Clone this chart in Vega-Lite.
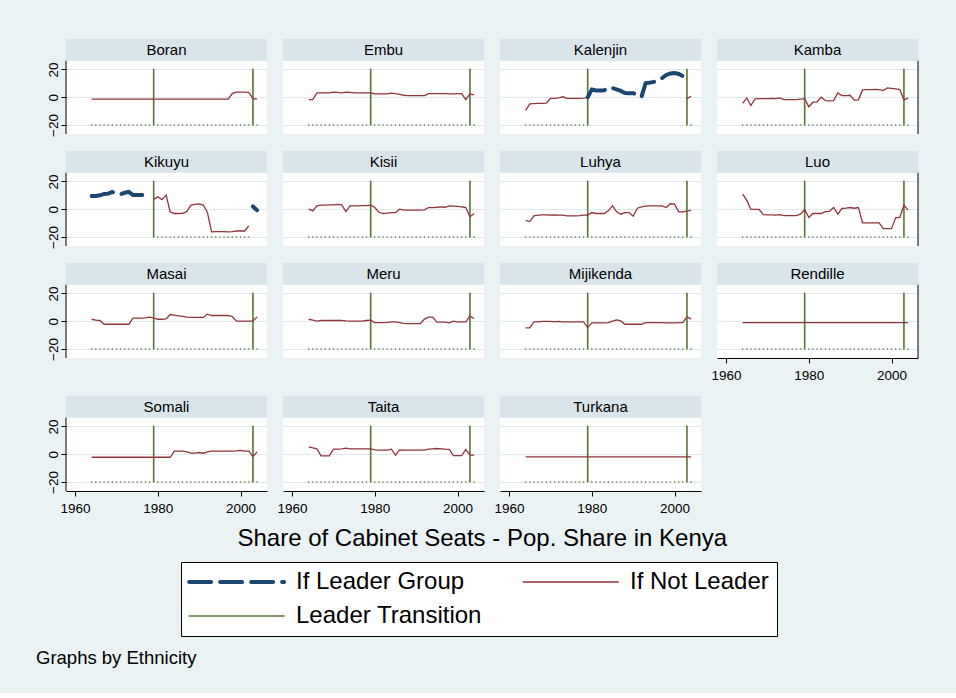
{
"$schema": "https://vega.github.io/schema/vega-lite/v6.json",
"background": "#eaf2f3",
"padding": {"left": 35, "top": 39, "right": 38, "bottom": 26},
"data": {"values": [
{"e":"Boran","y":1964,"n":-1.4,"t":-20},{"e":"Boran","y":1965,"n":-1.4,"t":-20},{"e":"Boran","y":1966,"n":-1.4,"t":-20},{"e":"Boran","y":1967,"n":-1.4,"t":-20},{"e":"Boran","y":1968,"n":-1.4,"t":-20},{"e":"Boran","y":1969,"n":-1.4,"t":-20},{"e":"Boran","y":1970,"n":-1.4,"t":-20},{"e":"Boran","y":1971,"n":-1.4,"t":-20},{"e":"Boran","y":1972,"n":-1.4,"t":-20},{"e":"Boran","y":1973,"n":-1.4,"t":-20},{"e":"Boran","y":1974,"n":-1.4,"t":-20},{"e":"Boran","y":1975,"n":-1.4},{"e":"Boran","y":1976,"n":-1.4,"t":-20},{"e":"Boran","y":1977,"n":-1.4,"t":-20},{"e":"Boran","y":1978,"n":-1.4,"t":-20},{"e":"Boran","y":1979,"n":-1.4,"t":20},{"e":"Boran","y":1980,"n":-1.4,"t":-20},{"e":"Boran","y":1981,"n":-1.4,"t":-20},{"e":"Boran","y":1982,"n":-1.4,"t":-20},{"e":"Boran","y":1983,"n":-1.4,"t":-20},{"e":"Boran","y":1984,"n":-1.4,"t":-20},{"e":"Boran","y":1985,"n":-1.4,"t":-20},{"e":"Boran","y":1986,"n":-1.4,"t":-20},{"e":"Boran","y":1987,"n":-1.4,"t":-20},{"e":"Boran","y":1988,"n":-1.4,"t":-20},{"e":"Boran","y":1989,"n":-1.4,"t":-20},{"e":"Boran","y":1990,"n":-1.4,"t":-20},{"e":"Boran","y":1991,"n":-1.4,"t":-20},{"e":"Boran","y":1992,"n":-1.4,"t":-20},{"e":"Boran","y":1993,"n":-1.4,"t":-20},{"e":"Boran","y":1994,"n":-1.4,"t":-20},{"e":"Boran","y":1995,"n":-1.4,"t":-20},{"e":"Boran","y":1996,"n":-1.4,"t":-20},{"e":"Boran","y":1997,"n":-1.4,"t":-20},{"e":"Boran","y":1998,"n":2.6,"t":-20},{"e":"Boran","y":1999,"n":3.6,"t":-20},{"e":"Boran","y":2000,"n":3.6,"t":-20},{"e":"Boran","y":2001,"n":3.6,"t":-20},{"e":"Boran","y":2002,"n":3.4,"t":-20},{"e":"Boran","y":2003,"n":-1.0,"t":20},{"e":"Boran","y":2004,"n":-1.4,"t":-20},
{"e":"Embu","y":1964,"n":-1.7,"t":-20},{"e":"Embu","y":1965,"n":-1.7,"t":-20},{"e":"Embu","y":1966,"n":3.1,"t":-20},{"e":"Embu","y":1967,"n":3.1,"t":-20},{"e":"Embu","y":1968,"n":3.1,"t":-20},{"e":"Embu","y":1969,"n":3.1,"t":-20},{"e":"Embu","y":1970,"n":3.6,"t":-20},{"e":"Embu","y":1971,"n":3.4,"t":-20},{"e":"Embu","y":1972,"n":3.1,"t":-20},{"e":"Embu","y":1973,"n":3.6,"t":-20},{"e":"Embu","y":1974,"n":3.4,"t":-20},{"e":"Embu","y":1975,"n":3.1},{"e":"Embu","y":1976,"n":3.1,"t":-20},{"e":"Embu","y":1977,"n":3.1,"t":-20},{"e":"Embu","y":1978,"n":3.1,"t":-20},{"e":"Embu","y":1979,"n":3.1,"t":20},{"e":"Embu","y":1980,"n":2.4,"t":-20},{"e":"Embu","y":1981,"n":2.4,"t":-20},{"e":"Embu","y":1982,"n":2.4,"t":-20},{"e":"Embu","y":1983,"n":2.4,"t":-20},{"e":"Embu","y":1984,"n":2.9,"t":-20},{"e":"Embu","y":1985,"n":2.6,"t":-20},{"e":"Embu","y":1986,"n":2.0,"t":-20},{"e":"Embu","y":1987,"n":1.4,"t":-20},{"e":"Embu","y":1988,"n":1.2,"t":-20},{"e":"Embu","y":1989,"n":1.2,"t":-20},{"e":"Embu","y":1990,"n":1.2,"t":-20},{"e":"Embu","y":1991,"n":1.2,"t":-20},{"e":"Embu","y":1992,"n":1.2,"t":-20},{"e":"Embu","y":1993,"n":2.6,"t":-20},{"e":"Embu","y":1994,"n":2.6,"t":-20},{"e":"Embu","y":1995,"n":2.6,"t":-20},{"e":"Embu","y":1996,"n":2.6,"t":-20},{"e":"Embu","y":1997,"n":2.6,"t":-20},{"e":"Embu","y":1998,"n":2.4,"t":-20},{"e":"Embu","y":1999,"n":2.4,"t":-20},{"e":"Embu","y":2000,"n":2.6,"t":-20},{"e":"Embu","y":2001,"n":2.6,"t":-20},{"e":"Embu","y":2002,"n":-1.7,"t":-20},{"e":"Embu","y":2003,"n":2.4,"t":20},{"e":"Embu","y":2004,"n":1.7,"t":-20},
{"e":"Kalenjin","y":1964,"n":-9.5,"t":-20},{"e":"Kalenjin","y":1965,"n":-4.8,"t":-20},{"e":"Kalenjin","y":1966,"n":-4.6,"t":-20},{"e":"Kalenjin","y":1967,"n":-4.5,"t":-20},{"e":"Kalenjin","y":1968,"n":-4.5,"t":-20},{"e":"Kalenjin","y":1969,"n":-4.3,"t":-20},{"e":"Kalenjin","y":1970,"n":-0.8,"t":-20},{"e":"Kalenjin","y":1971,"n":-0.8,"t":-20},{"e":"Kalenjin","y":1972,"n":-0.5,"t":-20},{"e":"Kalenjin","y":1973,"n":0.3,"t":-20},{"e":"Kalenjin","y":1974,"n":-0.8,"t":-20},{"e":"Kalenjin","y":1975,"n":-0.8},{"e":"Kalenjin","y":1976,"n":-0.8,"t":-20},{"e":"Kalenjin","y":1977,"n":-0.8,"t":-20},{"e":"Kalenjin","y":1978,"n":-0.6,"t":-20},{"e":"Kalenjin","y":1979,"n":0,"l":0,"t":20},{"e":"Kalenjin","y":1980,"l":5.5,"t":-20},{"e":"Kalenjin","y":1981,"l":4.8,"t":-20},{"e":"Kalenjin","y":1982,"l":4.8,"t":-20},{"e":"Kalenjin","y":1983,"l":5.0,"t":-20},{"e":"Kalenjin","y":1984,"l":6.9,"t":-20},{"e":"Kalenjin","y":1985,"l":6.5,"t":-20},{"e":"Kalenjin","y":1986,"l":5.7,"t":-20},{"e":"Kalenjin","y":1987,"l":4.5,"t":-20},{"e":"Kalenjin","y":1988,"l":3.0,"t":-20},{"e":"Kalenjin","y":1989,"l":2.8,"t":-20},{"e":"Kalenjin","y":1990,"l":2.8,"t":-20},{"e":"Kalenjin","y":1991,"l":2.2,"t":-20},{"e":"Kalenjin","y":1992,"l":0.2,"t":-20},{"e":"Kalenjin","y":1993,"l":10.0,"t":-20},{"e":"Kalenjin","y":1994,"l":10.5,"t":-20},{"e":"Kalenjin","y":1995,"l":11.0,"t":-20},{"e":"Kalenjin","y":1996,"l":12.0,"t":-20},{"e":"Kalenjin","y":1997,"l":13.8,"t":-20},{"e":"Kalenjin","y":1998,"l":16.0,"t":-20},{"e":"Kalenjin","y":1999,"l":17.1,"t":-20},{"e":"Kalenjin","y":2000,"l":17.4,"t":-20},{"e":"Kalenjin","y":2001,"l":16.7,"t":-20},{"e":"Kalenjin","y":2002,"l":15.2,"t":-20},{"e":"Kalenjin","y":2003,"n":-1.0,"t":20},{"e":"Kalenjin","y":2004,"n":0.7,"t":-20},
{"e":"Kamba","y":1964,"n":-4.5,"t":-20},{"e":"Kamba","y":1965,"n":-0.5,"t":-20},{"e":"Kamba","y":1966,"n":-6.0,"t":-20},{"e":"Kamba","y":1967,"n":-1.2,"t":-20},{"e":"Kamba","y":1968,"n":-1.0,"t":-20},{"e":"Kamba","y":1969,"n":-1.0,"t":-20},{"e":"Kamba","y":1970,"n":-1.0,"t":-20},{"e":"Kamba","y":1971,"n":-0.8,"t":-20},{"e":"Kamba","y":1972,"n":-1.0,"t":-20},{"e":"Kamba","y":1973,"n":-0.5,"t":-20},{"e":"Kamba","y":1974,"n":-1.7,"t":-20},{"e":"Kamba","y":1975,"n":-1.7},{"e":"Kamba","y":1976,"n":-1.7,"t":-20},{"e":"Kamba","y":1977,"n":-1.7,"t":-20},{"e":"Kamba","y":1978,"n":-1.4,"t":-20},{"e":"Kamba","y":1979,"n":-1.0,"t":20},{"e":"Kamba","y":1980,"n":-6.9,"t":-20},{"e":"Kamba","y":1981,"n":-3.6,"t":-20},{"e":"Kamba","y":1982,"n":-3.3,"t":-20},{"e":"Kamba","y":1983,"n":0,"t":-20},{"e":"Kamba","y":1984,"n":-2.4,"t":-20},{"e":"Kamba","y":1985,"n":-2.6,"t":-20},{"e":"Kamba","y":1986,"n":-2.4,"t":-20},{"e":"Kamba","y":1987,"n":3.1,"t":-20},{"e":"Kamba","y":1988,"n":1.2,"t":-20},{"e":"Kamba","y":1989,"n":1.2,"t":-20},{"e":"Kamba","y":1990,"n":1.4,"t":-20},{"e":"Kamba","y":1991,"n":-2.1,"t":-20},{"e":"Kamba","y":1992,"n":-1.9,"t":-20},{"e":"Kamba","y":1993,"n":5.2,"t":-20},{"e":"Kamba","y":1994,"n":5.5,"t":-20},{"e":"Kamba","y":1995,"n":5.5,"t":-20},{"e":"Kamba","y":1996,"n":5.7,"t":-20},{"e":"Kamba","y":1997,"n":5.5,"t":-20},{"e":"Kamba","y":1998,"n":4.8,"t":-20},{"e":"Kamba","y":1999,"n":6.7,"t":-20},{"e":"Kamba","y":2000,"n":6.4,"t":-20},{"e":"Kamba","y":2001,"n":6.0,"t":-20},{"e":"Kamba","y":2002,"n":5.5,"t":-20},{"e":"Kamba","y":2003,"n":-1.9,"t":20},{"e":"Kamba","y":2004,"n":-0.7,"t":-20},
{"e":"Kikuyu","y":1964,"l":9.5,"t":-20},{"e":"Kikuyu","y":1965,"l":9.5,"t":-20},{"e":"Kikuyu","y":1966,"l":10.0,"t":-20},{"e":"Kikuyu","y":1967,"l":11.0,"t":-20},{"e":"Kikuyu","y":1968,"l":11.2,"t":-20},{"e":"Kikuyu","y":1969,"l":12.4,"t":-20},{"e":"Kikuyu","y":1970,"l":11.0,"t":-20},{"e":"Kikuyu","y":1971,"l":10.8,"t":-20},{"e":"Kikuyu","y":1972,"l":11.8,"t":-20},{"e":"Kikuyu","y":1973,"l":12.4,"t":-20},{"e":"Kikuyu","y":1974,"l":10.2,"t":-20},{"e":"Kikuyu","y":1975,"l":10.2},{"e":"Kikuyu","y":1976,"l":10.2,"t":-20},{"e":"Kikuyu","y":1977,"l":10.2,"t":-20},{"e":"Kikuyu","y":1978,"l":7.9,"t":-20},{"e":"Kikuyu","y":1979,"n":7.1,"t":20},{"e":"Kikuyu","y":1980,"n":8.9,"t":-20},{"e":"Kikuyu","y":1981,"n":6.9,"t":-20},{"e":"Kikuyu","y":1982,"n":10.1,"t":-20},{"e":"Kikuyu","y":1983,"n":-2.0,"t":-20},{"e":"Kikuyu","y":1984,"n":-3.1,"t":-20},{"e":"Kikuyu","y":1985,"n":-3.1,"t":-20},{"e":"Kikuyu","y":1986,"n":-3.0,"t":-20},{"e":"Kikuyu","y":1987,"n":-1.6,"t":-20},{"e":"Kikuyu","y":1988,"n":2.9,"t":-20},{"e":"Kikuyu","y":1989,"n":3.5,"t":-20},{"e":"Kikuyu","y":1990,"n":3.8,"t":-20},{"e":"Kikuyu","y":1991,"n":3.0,"t":-20},{"e":"Kikuyu","y":1992,"n":-2.4,"t":-20},{"e":"Kikuyu","y":1993,"n":-16.3,"t":-20},{"e":"Kikuyu","y":1994,"n":-16.2,"t":-20},{"e":"Kikuyu","y":1995,"n":-16.2,"t":-20},{"e":"Kikuyu","y":1996,"n":-16.2,"t":-20},{"e":"Kikuyu","y":1997,"n":-16.4,"t":-20},{"e":"Kikuyu","y":1998,"n":-16.2,"t":-20},{"e":"Kikuyu","y":1999,"n":-15.7,"t":-20},{"e":"Kikuyu","y":2000,"n":-15.7,"t":-20},{"e":"Kikuyu","y":2001,"n":-15.7,"t":-20},{"e":"Kikuyu","y":2002,"n":-12.0,"t":-20},{"e":"Kikuyu","y":2003,"l":2.0,"t":20},{"e":"Kikuyu","y":2004,"l":-0.7,"t":-20},
{"e":"Kisii","y":1964,"n":0,"t":-20},{"e":"Kisii","y":1965,"n":-1.2,"t":-20},{"e":"Kisii","y":1966,"n":2.4,"t":-20},{"e":"Kisii","y":1967,"n":2.9,"t":-20},{"e":"Kisii","y":1968,"n":2.9,"t":-20},{"e":"Kisii","y":1969,"n":3.1,"t":-20},{"e":"Kisii","y":1970,"n":3.1,"t":-20},{"e":"Kisii","y":1971,"n":3.4,"t":-20},{"e":"Kisii","y":1972,"n":3.1,"t":-20},{"e":"Kisii","y":1973,"n":-1.7,"t":-20},{"e":"Kisii","y":1974,"n":2.4,"t":-20},{"e":"Kisii","y":1975,"n":2.4},{"e":"Kisii","y":1976,"n":2.4,"t":-20},{"e":"Kisii","y":1977,"n":2.6,"t":-20},{"e":"Kisii","y":1978,"n":2.6,"t":-20},{"e":"Kisii","y":1979,"n":2.9,"t":20},{"e":"Kisii","y":1980,"n":1.2,"t":-20},{"e":"Kisii","y":1981,"n":-2.2,"t":-20},{"e":"Kisii","y":1982,"n":-3.1,"t":-20},{"e":"Kisii","y":1983,"n":-2.9,"t":-20},{"e":"Kisii","y":1984,"n":-2.4,"t":-20},{"e":"Kisii","y":1985,"n":-2.4,"t":-20},{"e":"Kisii","y":1986,"n":0,"t":-20},{"e":"Kisii","y":1987,"n":-0.7,"t":-20},{"e":"Kisii","y":1988,"n":-0.7,"t":-20},{"e":"Kisii","y":1989,"n":-0.7,"t":-20},{"e":"Kisii","y":1990,"n":-0.7,"t":-20},{"e":"Kisii","y":1991,"n":-0.7,"t":-20},{"e":"Kisii","y":1992,"n":-0.5,"t":-20},{"e":"Kisii","y":1993,"n":1.2,"t":-20},{"e":"Kisii","y":1994,"n":1.2,"t":-20},{"e":"Kisii","y":1995,"n":1.4,"t":-20},{"e":"Kisii","y":1996,"n":1.7,"t":-20},{"e":"Kisii","y":1997,"n":1.4,"t":-20},{"e":"Kisii","y":1998,"n":2.4,"t":-20},{"e":"Kisii","y":1999,"n":2.2,"t":-20},{"e":"Kisii","y":2000,"n":2.0,"t":-20},{"e":"Kisii","y":2001,"n":1.7,"t":-20},{"e":"Kisii","y":2002,"n":1.2,"t":-20},{"e":"Kisii","y":2003,"n":-5.5,"t":20},{"e":"Kisii","y":2004,"n":-3.1,"t":-20},
{"e":"Luhya","y":1964,"n":-8.0,"t":-20},{"e":"Luhya","y":1965,"n":-8.9,"t":-20},{"e":"Luhya","y":1966,"n":-4.8,"t":-20},{"e":"Luhya","y":1967,"n":-4.3,"t":-20},{"e":"Luhya","y":1968,"n":-4.1,"t":-20},{"e":"Luhya","y":1969,"n":-4.1,"t":-20},{"e":"Luhya","y":1970,"n":-4.3,"t":-20},{"e":"Luhya","y":1971,"n":-4.1,"t":-20},{"e":"Luhya","y":1972,"n":-4.3,"t":-20},{"e":"Luhya","y":1973,"n":-4.3,"t":-20},{"e":"Luhya","y":1974,"n":-4.8,"t":-20},{"e":"Luhya","y":1975,"n":-4.8},{"e":"Luhya","y":1976,"n":-4.8,"t":-20},{"e":"Luhya","y":1977,"n":-4.6,"t":-20},{"e":"Luhya","y":1978,"n":-4.3,"t":-20},{"e":"Luhya","y":1979,"n":-4.3,"t":20},{"e":"Luhya","y":1980,"n":-2.4,"t":-20},{"e":"Luhya","y":1981,"n":-3.1,"t":-20},{"e":"Luhya","y":1982,"n":-3.1,"t":-20},{"e":"Luhya","y":1983,"n":-3.1,"t":-20},{"e":"Luhya","y":1984,"n":-1.2,"t":-20},{"e":"Luhya","y":1985,"n":2.4,"t":-20},{"e":"Luhya","y":1986,"n":-1.9,"t":-20},{"e":"Luhya","y":1987,"n":-3.6,"t":-20},{"e":"Luhya","y":1988,"n":-2.4,"t":-20},{"e":"Luhya","y":1989,"n":-2.4,"t":-20},{"e":"Luhya","y":1990,"n":-5.1,"t":-20},{"e":"Luhya","y":1991,"n":0.7,"t":-20},{"e":"Luhya","y":1992,"n":1.7,"t":-20},{"e":"Luhya","y":1993,"n":2.2,"t":-20},{"e":"Luhya","y":1994,"n":2.4,"t":-20},{"e":"Luhya","y":1995,"n":2.4,"t":-20},{"e":"Luhya","y":1996,"n":2.4,"t":-20},{"e":"Luhya","y":1997,"n":2.4,"t":-20},{"e":"Luhya","y":1998,"n":1.2,"t":-20},{"e":"Luhya","y":1999,"n":3.9,"t":-20},{"e":"Luhya","y":2000,"n":3.6,"t":-20},{"e":"Luhya","y":2001,"n":-1.9,"t":-20},{"e":"Luhya","y":2002,"n":-1.9,"t":-20},{"e":"Luhya","y":2003,"n":-1.4,"t":20},{"e":"Luhya","y":2004,"n":-0.7,"t":-20},
{"e":"Luo","y":1964,"n":10.8,"t":-20},{"e":"Luo","y":1965,"n":6.5,"t":-20},{"e":"Luo","y":1966,"n":-0.2,"t":-20},{"e":"Luo","y":1967,"n":-0.2,"t":-20},{"e":"Luo","y":1968,"n":-0.2,"t":-20},{"e":"Luo","y":1969,"n":-3.9,"t":-20},{"e":"Luo","y":1970,"n":-4.1,"t":-20},{"e":"Luo","y":1971,"n":-4.1,"t":-20},{"e":"Luo","y":1972,"n":-4.3,"t":-20},{"e":"Luo","y":1973,"n":-3.9,"t":-20},{"e":"Luo","y":1974,"n":-4.6,"t":-20},{"e":"Luo","y":1975,"n":-4.6},{"e":"Luo","y":1976,"n":-4.6,"t":-20},{"e":"Luo","y":1977,"n":-4.6,"t":-20},{"e":"Luo","y":1978,"n":-3.6,"t":-20},{"e":"Luo","y":1979,"n":-0.2,"t":20},{"e":"Luo","y":1980,"n":-6.0,"t":-20},{"e":"Luo","y":1981,"n":-3.1,"t":-20},{"e":"Luo","y":1982,"n":-3.1,"t":-20},{"e":"Luo","y":1983,"n":-3.1,"t":-20},{"e":"Luo","y":1984,"n":-1.7,"t":-20},{"e":"Luo","y":1985,"n":-1.5,"t":-20},{"e":"Luo","y":1986,"n":1.2,"t":-20},{"e":"Luo","y":1987,"n":-3.6,"t":-20},{"e":"Luo","y":1988,"n":0.5,"t":-20},{"e":"Luo","y":1989,"n":0.7,"t":-20},{"e":"Luo","y":1990,"n":1.2,"t":-20},{"e":"Luo","y":1991,"n":0.7,"t":-20},{"e":"Luo","y":1992,"n":1.2,"t":-20},{"e":"Luo","y":1993,"n":-9.9,"t":-20},{"e":"Luo","y":1994,"n":-9.9,"t":-20},{"e":"Luo","y":1995,"n":-9.9,"t":-20},{"e":"Luo","y":1996,"n":-9.9,"t":-20},{"e":"Luo","y":1997,"n":-9.9,"t":-20},{"e":"Luo","y":1998,"n":-14.0,"t":-20},{"e":"Luo","y":1999,"n":-14.0,"t":-20},{"e":"Luo","y":2000,"n":-14.0,"t":-20},{"e":"Luo","y":2001,"n":-6.0,"t":-20},{"e":"Luo","y":2002,"n":-6.0,"t":-20},{"e":"Luo","y":2003,"n":2.9,"t":20},{"e":"Luo","y":2004,"n":-0.7,"t":-20},
{"e":"Masai","y":1964,"n":1.4,"t":-20},{"e":"Masai","y":1965,"n":0.7,"t":-20},{"e":"Masai","y":1966,"n":0.5,"t":-20},{"e":"Masai","y":1967,"n":-2.2,"t":-20},{"e":"Masai","y":1968,"n":-2.2,"t":-20},{"e":"Masai","y":1969,"n":-2.2,"t":-20},{"e":"Masai","y":1970,"n":-2.2,"t":-20},{"e":"Masai","y":1971,"n":-2.2,"t":-20},{"e":"Masai","y":1972,"n":-2.2,"t":-20},{"e":"Masai","y":1973,"n":-2.2,"t":-20},{"e":"Masai","y":1974,"n":2.2,"t":-20},{"e":"Masai","y":1975,"n":2.2},{"e":"Masai","y":1976,"n":2.2,"t":-20},{"e":"Masai","y":1977,"n":2.4,"t":-20},{"e":"Masai","y":1978,"n":2.9,"t":-20},{"e":"Masai","y":1979,"n":2.4,"t":20},{"e":"Masai","y":1980,"n":1.4,"t":-20},{"e":"Masai","y":1981,"n":1.4,"t":-20},{"e":"Masai","y":1982,"n":1.7,"t":-20},{"e":"Masai","y":1983,"n":4.8,"t":-20},{"e":"Masai","y":1984,"n":4.3,"t":-20},{"e":"Masai","y":1985,"n":3.9,"t":-20},{"e":"Masai","y":1986,"n":3.4,"t":-20},{"e":"Masai","y":1987,"n":2.9,"t":-20},{"e":"Masai","y":1988,"n":2.7,"t":-20},{"e":"Masai","y":1989,"n":2.7,"t":-20},{"e":"Masai","y":1990,"n":2.7,"t":-20},{"e":"Masai","y":1991,"n":2.7,"t":-20},{"e":"Masai","y":1992,"n":5.1,"t":-20},{"e":"Masai","y":1993,"n":4.1,"t":-20},{"e":"Masai","y":1994,"n":4.1,"t":-20},{"e":"Masai","y":1995,"n":4.1,"t":-20},{"e":"Masai","y":1996,"n":4.1,"t":-20},{"e":"Masai","y":1997,"n":4.1,"t":-20},{"e":"Masai","y":1998,"n":3.4,"t":-20},{"e":"Masai","y":1999,"n":0,"t":-20},{"e":"Masai","y":2000,"n":0,"t":-20},{"e":"Masai","y":2001,"n":0,"t":-20},{"e":"Masai","y":2002,"n":0,"t":-20},{"e":"Masai","y":2003,"n":0,"t":20},{"e":"Masai","y":2004,"n":3.1,"t":-20},
{"e":"Meru","y":1964,"n":1.4,"t":-20},{"e":"Meru","y":1965,"n":0.7,"t":-20},{"e":"Meru","y":1966,"n":0,"t":-20},{"e":"Meru","y":1967,"n":0.5,"t":-20},{"e":"Meru","y":1968,"n":0.5,"t":-20},{"e":"Meru","y":1969,"n":0.5,"t":-20},{"e":"Meru","y":1970,"n":0.5,"t":-20},{"e":"Meru","y":1971,"n":0.5,"t":-20},{"e":"Meru","y":1972,"n":0.5,"t":-20},{"e":"Meru","y":1973,"n":0.2,"t":-20},{"e":"Meru","y":1974,"n":0,"t":-20},{"e":"Meru","y":1975,"n":0},{"e":"Meru","y":1976,"n":0,"t":-20},{"e":"Meru","y":1977,"n":0,"t":-20},{"e":"Meru","y":1978,"n":0.5,"t":-20},{"e":"Meru","y":1979,"n":0.7,"t":20},{"e":"Meru","y":1980,"n":-1.0,"t":-20},{"e":"Meru","y":1981,"n":-1.0,"t":-20},{"e":"Meru","y":1982,"n":-1.0,"t":-20},{"e":"Meru","y":1983,"n":-0.8,"t":-20},{"e":"Meru","y":1984,"n":-0.5,"t":-20},{"e":"Meru","y":1985,"n":-0.5,"t":-20},{"e":"Meru","y":1986,"n":-1.0,"t":-20},{"e":"Meru","y":1987,"n":-1.5,"t":-20},{"e":"Meru","y":1988,"n":-1.7,"t":-20},{"e":"Meru","y":1989,"n":-1.7,"t":-20},{"e":"Meru","y":1990,"n":-1.7,"t":-20},{"e":"Meru","y":1991,"n":-1.7,"t":-20},{"e":"Meru","y":1992,"n":1.5,"t":-20},{"e":"Meru","y":1993,"n":2.9,"t":-20},{"e":"Meru","y":1994,"n":2.9,"t":-20},{"e":"Meru","y":1995,"n":-0.7,"t":-20},{"e":"Meru","y":1996,"n":-0.7,"t":-20},{"e":"Meru","y":1997,"n":-0.7,"t":-20},{"e":"Meru","y":1998,"n":-1.2,"t":-20},{"e":"Meru","y":1999,"n":0,"t":-20},{"e":"Meru","y":2000,"n":-0.5,"t":-20},{"e":"Meru","y":2001,"n":-0.5,"t":-20},{"e":"Meru","y":2002,"n":-0.5,"t":-20},{"e":"Meru","y":2003,"n":3.6,"t":20},{"e":"Meru","y":2004,"n":1.9,"t":-20},
{"e":"Mijikenda","y":1964,"n":-4.8,"t":-20},{"e":"Mijikenda","y":1965,"n":-4.8,"t":-20},{"e":"Mijikenda","y":1966,"n":-0.5,"t":-20},{"e":"Mijikenda","y":1967,"n":-0.5,"t":-20},{"e":"Mijikenda","y":1968,"n":-0.2,"t":-20},{"e":"Mijikenda","y":1969,"n":-0.2,"t":-20},{"e":"Mijikenda","y":1970,"n":-0.2,"t":-20},{"e":"Mijikenda","y":1971,"n":-0.5,"t":-20},{"e":"Mijikenda","y":1972,"n":-0.2,"t":-20},{"e":"Mijikenda","y":1973,"n":-0.5,"t":-20},{"e":"Mijikenda","y":1974,"n":-0.5,"t":-20},{"e":"Mijikenda","y":1975,"n":-0.5},{"e":"Mijikenda","y":1976,"n":-0.5,"t":-20},{"e":"Mijikenda","y":1977,"n":-0.5,"t":-20},{"e":"Mijikenda","y":1978,"n":-0.5,"t":-20},{"e":"Mijikenda","y":1979,"n":-4.6,"t":20},{"e":"Mijikenda","y":1980,"n":-1.2,"t":-20},{"e":"Mijikenda","y":1981,"n":-1.2,"t":-20},{"e":"Mijikenda","y":1982,"n":-1.2,"t":-20},{"e":"Mijikenda","y":1983,"n":-1.2,"t":-20},{"e":"Mijikenda","y":1984,"n":-1.0,"t":-20},{"e":"Mijikenda","y":1985,"n":0,"t":-20},{"e":"Mijikenda","y":1986,"n":1.0,"t":-20},{"e":"Mijikenda","y":1987,"n":0.2,"t":-20},{"e":"Mijikenda","y":1988,"n":-2.2,"t":-20},{"e":"Mijikenda","y":1989,"n":-2.2,"t":-20},{"e":"Mijikenda","y":1990,"n":-2.2,"t":-20},{"e":"Mijikenda","y":1991,"n":-2.2,"t":-20},{"e":"Mijikenda","y":1992,"n":-2.2,"t":-20},{"e":"Mijikenda","y":1993,"n":-1.0,"t":-20},{"e":"Mijikenda","y":1994,"n":-1.0,"t":-20},{"e":"Mijikenda","y":1995,"n":-1.0,"t":-20},{"e":"Mijikenda","y":1996,"n":-1.0,"t":-20},{"e":"Mijikenda","y":1997,"n":-1.0,"t":-20},{"e":"Mijikenda","y":1998,"n":-1.2,"t":-20},{"e":"Mijikenda","y":1999,"n":-1.2,"t":-20},{"e":"Mijikenda","y":2000,"n":-1.2,"t":-20},{"e":"Mijikenda","y":2001,"n":-1.0,"t":-20},{"e":"Mijikenda","y":2002,"n":-1.0,"t":-20},{"e":"Mijikenda","y":2003,"n":3.1,"t":20},{"e":"Mijikenda","y":2004,"n":1.7,"t":-20},
{"e":"Rendille","y":1964,"n":-1.0,"t":-20},{"e":"Rendille","y":1965,"n":-1.0,"t":-20},{"e":"Rendille","y":1966,"n":-1.0,"t":-20},{"e":"Rendille","y":1967,"n":-1.0,"t":-20},{"e":"Rendille","y":1968,"n":-1.0,"t":-20},{"e":"Rendille","y":1969,"n":-1.0,"t":-20},{"e":"Rendille","y":1970,"n":-1.0,"t":-20},{"e":"Rendille","y":1971,"n":-1.0,"t":-20},{"e":"Rendille","y":1972,"n":-1.0,"t":-20},{"e":"Rendille","y":1973,"n":-1.0,"t":-20},{"e":"Rendille","y":1974,"n":-1.0,"t":-20},{"e":"Rendille","y":1975,"n":-1.0},{"e":"Rendille","y":1976,"n":-1.0,"t":-20},{"e":"Rendille","y":1977,"n":-1.0,"t":-20},{"e":"Rendille","y":1978,"n":-1.0,"t":-20},{"e":"Rendille","y":1979,"n":-1.0,"t":20},{"e":"Rendille","y":1980,"n":-1.0,"t":-20},{"e":"Rendille","y":1981,"n":-1.0,"t":-20},{"e":"Rendille","y":1982,"n":-1.0,"t":-20},{"e":"Rendille","y":1983,"n":-1.0,"t":-20},{"e":"Rendille","y":1984,"n":-1.0,"t":-20},{"e":"Rendille","y":1985,"n":-1.0,"t":-20},{"e":"Rendille","y":1986,"n":-1.0,"t":-20},{"e":"Rendille","y":1987,"n":-1.0,"t":-20},{"e":"Rendille","y":1988,"n":-1.0,"t":-20},{"e":"Rendille","y":1989,"n":-1.0,"t":-20},{"e":"Rendille","y":1990,"n":-1.0,"t":-20},{"e":"Rendille","y":1991,"n":-1.0,"t":-20},{"e":"Rendille","y":1992,"n":-1.0,"t":-20},{"e":"Rendille","y":1993,"n":-1.0,"t":-20},{"e":"Rendille","y":1994,"n":-1.0,"t":-20},{"e":"Rendille","y":1995,"n":-1.0,"t":-20},{"e":"Rendille","y":1996,"n":-1.0,"t":-20},{"e":"Rendille","y":1997,"n":-1.0,"t":-20},{"e":"Rendille","y":1998,"n":-1.0,"t":-20},{"e":"Rendille","y":1999,"n":-1.0,"t":-20},{"e":"Rendille","y":2000,"n":-1.0,"t":-20},{"e":"Rendille","y":2001,"n":-1.0,"t":-20},{"e":"Rendille","y":2002,"n":-1.0,"t":-20},{"e":"Rendille","y":2003,"n":-1.0,"t":20},{"e":"Rendille","y":2004,"n":-1.0,"t":-20},
{"e":"Somali","y":1964,"n":-2.2,"t":-20},{"e":"Somali","y":1965,"n":-2.2,"t":-20},{"e":"Somali","y":1966,"n":-2.2,"t":-20},{"e":"Somali","y":1967,"n":-2.2,"t":-20},{"e":"Somali","y":1968,"n":-2.2,"t":-20},{"e":"Somali","y":1969,"n":-2.2,"t":-20},{"e":"Somali","y":1970,"n":-2.2,"t":-20},{"e":"Somali","y":1971,"n":-2.2,"t":-20},{"e":"Somali","y":1972,"n":-2.2,"t":-20},{"e":"Somali","y":1973,"n":-2.2,"t":-20},{"e":"Somali","y":1974,"n":-2.2,"t":-20},{"e":"Somali","y":1975,"n":-2.2},{"e":"Somali","y":1976,"n":-2.2,"t":-20},{"e":"Somali","y":1977,"n":-2.2,"t":-20},{"e":"Somali","y":1978,"n":-2.2,"t":-20},{"e":"Somali","y":1979,"n":-2.2,"t":20},{"e":"Somali","y":1980,"n":-2.2,"t":-20},{"e":"Somali","y":1981,"n":-2.2,"t":-20},{"e":"Somali","y":1982,"n":-2.2,"t":-20},{"e":"Somali","y":1983,"n":-2.2,"t":-20},{"e":"Somali","y":1984,"n":2.2,"t":-20},{"e":"Somali","y":1985,"n":2.2,"t":-20},{"e":"Somali","y":1986,"n":2.2,"t":-20},{"e":"Somali","y":1987,"n":1.7,"t":-20},{"e":"Somali","y":1988,"n":0.7,"t":-20},{"e":"Somali","y":1989,"n":0.7,"t":-20},{"e":"Somali","y":1990,"n":1.2,"t":-20},{"e":"Somali","y":1991,"n":0.7,"t":-20},{"e":"Somali","y":1992,"n":1.7,"t":-20},{"e":"Somali","y":1993,"n":2.2,"t":-20},{"e":"Somali","y":1994,"n":2.2,"t":-20},{"e":"Somali","y":1995,"n":2.2,"t":-20},{"e":"Somali","y":1996,"n":2.2,"t":-20},{"e":"Somali","y":1997,"n":2.2,"t":-20},{"e":"Somali","y":1998,"n":2.2,"t":-20},{"e":"Somali","y":1999,"n":2.4,"t":-20},{"e":"Somali","y":2000,"n":2.7,"t":-20},{"e":"Somali","y":2001,"n":2.2,"t":-20},{"e":"Somali","y":2002,"n":2.2,"t":-20},{"e":"Somali","y":2003,"n":-1.7,"t":20},{"e":"Somali","y":2004,"n":1.7,"t":-20},
{"e":"Taita","y":1964,"n":5.3,"t":-20},{"e":"Taita","y":1965,"n":4.6,"t":-20},{"e":"Taita","y":1966,"n":3.9,"t":-20},{"e":"Taita","y":1967,"n":-1.2,"t":-20},{"e":"Taita","y":1968,"n":-1.2,"t":-20},{"e":"Taita","y":1969,"n":-1.2,"t":-20},{"e":"Taita","y":1970,"n":3.6,"t":-20},{"e":"Taita","y":1971,"n":3.6,"t":-20},{"e":"Taita","y":1972,"n":3.9,"t":-20},{"e":"Taita","y":1973,"n":4.4,"t":-20},{"e":"Taita","y":1974,"n":3.9,"t":-20},{"e":"Taita","y":1975,"n":3.9},{"e":"Taita","y":1976,"n":3.9,"t":-20},{"e":"Taita","y":1977,"n":3.9,"t":-20},{"e":"Taita","y":1978,"n":3.9,"t":-20},{"e":"Taita","y":1979,"n":3.9,"t":20},{"e":"Taita","y":1980,"n":3.1,"t":-20},{"e":"Taita","y":1981,"n":2.9,"t":-20},{"e":"Taita","y":1982,"n":2.9,"t":-20},{"e":"Taita","y":1983,"n":2.9,"t":-20},{"e":"Taita","y":1984,"n":3.6,"t":-20},{"e":"Taita","y":1985,"n":-0.7,"t":-20},{"e":"Taita","y":1986,"n":3.1,"t":-20},{"e":"Taita","y":1987,"n":2.9,"t":-20},{"e":"Taita","y":1988,"n":2.9,"t":-20},{"e":"Taita","y":1989,"n":2.9,"t":-20},{"e":"Taita","y":1990,"n":2.9,"t":-20},{"e":"Taita","y":1991,"n":2.9,"t":-20},{"e":"Taita","y":1992,"n":2.9,"t":-20},{"e":"Taita","y":1993,"n":3.6,"t":-20},{"e":"Taita","y":1994,"n":3.9,"t":-20},{"e":"Taita","y":1995,"n":4.1,"t":-20},{"e":"Taita","y":1996,"n":3.9,"t":-20},{"e":"Taita","y":1997,"n":3.6,"t":-20},{"e":"Taita","y":1998,"n":3.4,"t":-20},{"e":"Taita","y":1999,"n":-1.0,"t":-20},{"e":"Taita","y":2000,"n":-1.0,"t":-20},{"e":"Taita","y":2001,"n":-1.0,"t":-20},{"e":"Taita","y":2002,"n":3.4,"t":-20},{"e":"Taita","y":2003,"n":-0.7,"t":20},{"e":"Taita","y":2004,"n":-0.7,"t":-20},
{"e":"Turkana","y":1964,"n":-1.9,"t":-20},{"e":"Turkana","y":1965,"n":-1.9,"t":-20},{"e":"Turkana","y":1966,"n":-1.9,"t":-20},{"e":"Turkana","y":1967,"n":-1.9,"t":-20},{"e":"Turkana","y":1968,"n":-1.9,"t":-20},{"e":"Turkana","y":1969,"n":-1.9,"t":-20},{"e":"Turkana","y":1970,"n":-1.9,"t":-20},{"e":"Turkana","y":1971,"n":-1.9,"t":-20},{"e":"Turkana","y":1972,"n":-1.9,"t":-20},{"e":"Turkana","y":1973,"n":-1.9,"t":-20},{"e":"Turkana","y":1974,"n":-1.9,"t":-20},{"e":"Turkana","y":1975,"n":-1.9},{"e":"Turkana","y":1976,"n":-1.9,"t":-20},{"e":"Turkana","y":1977,"n":-1.9,"t":-20},{"e":"Turkana","y":1978,"n":-1.9,"t":-20},{"e":"Turkana","y":1979,"n":-1.9,"t":20},{"e":"Turkana","y":1980,"n":-1.9,"t":-20},{"e":"Turkana","y":1981,"n":-1.9,"t":-20},{"e":"Turkana","y":1982,"n":-1.9,"t":-20},{"e":"Turkana","y":1983,"n":-1.9,"t":-20},{"e":"Turkana","y":1984,"n":-1.9,"t":-20},{"e":"Turkana","y":1985,"n":-1.9,"t":-20},{"e":"Turkana","y":1986,"n":-1.9,"t":-20},{"e":"Turkana","y":1987,"n":-1.9,"t":-20},{"e":"Turkana","y":1988,"n":-1.9,"t":-20},{"e":"Turkana","y":1989,"n":-1.9,"t":-20},{"e":"Turkana","y":1990,"n":-1.9,"t":-20},{"e":"Turkana","y":1991,"n":-1.9,"t":-20},{"e":"Turkana","y":1992,"n":-1.9,"t":-20},{"e":"Turkana","y":1993,"n":-1.9,"t":-20},{"e":"Turkana","y":1994,"n":-1.9,"t":-20},{"e":"Turkana","y":1995,"n":-1.9,"t":-20},{"e":"Turkana","y":1996,"n":-1.9,"t":-20},{"e":"Turkana","y":1997,"n":-1.9,"t":-20},{"e":"Turkana","y":1998,"n":-1.9,"t":-20},{"e":"Turkana","y":1999,"n":-1.9,"t":-20},{"e":"Turkana","y":2000,"n":-1.9,"t":-20},{"e":"Turkana","y":2001,"n":-1.9,"t":-20},{"e":"Turkana","y":2002,"n":-1.9,"t":-20},{"e":"Turkana","y":2003,"n":-1.9,"t":20},{"e":"Turkana","y":2004,"n":-1.9,"t":-20}
]},
"title": {"text": "Graphs by Ethnicity", "orient": "bottom", "anchor": "start", "fontSize": 18.5, "fontWeight": "normal", "color": "black", "offset": 12, "dx": -10},
"vconcat": [{
"title": {"text": "Share of Cabinet Seats - Pop. Share in Kenya", "orient": "bottom", "anchor": "middle", "fontSize": 24, "fontWeight": "normal", "color": "black", "offset": 12},
"columns": 4, "align": "each", "bounds": "full", "spacing": {"row": 14, "column": 10},
"concat": [
{"width": 201, "height": 95, "transform": [{"filter": {"field": "e", "equal": "Boran"}}],
 "encoding": {"x": {"field": "y", "type": "quantitative", "scale": {"domain": [1957.8, 2006.4], "nice": false, "zero": false}, "axis": null, "title": null},
  "y": {"field": "n", "type": "quantitative", "scale": {"domain": [-26.5, 41.9], "nice": false, "zero": false}, "axis": {"values": [-20, 0, 20], "labelAngle": 270, "domain": false, "grid": true, "labelPadding": 1}, "title": null}},
 "layer": [
  {"transform": [{"filter": "datum.y === 1979"}], "mark": {"type": "rect", "fill": "#d9e5eb"}, "encoding": {"x": {"datum": 1957.8, "axis": null, "title": null}, "x2": {"datum": 2006.4}, "y": {"datum": 26.3, "axis": {"values": [-20, 0, 20], "labelAngle": 270, "domain": false, "grid": true, "labelPadding": 1}, "title": null}, "y2": {"datum": 41.9}}},
  {"transform": [{"filter": "datum.y === 1979"}], "mark": {"type": "text", "fontSize": 15, "color": "black"}, "encoding": {"x": {"datum": 1982.1, "axis": null, "title": null}, "y": {"datum": 34.1, "axis": {"values": [-20, 0, 20], "labelAngle": 270, "domain": false, "grid": true, "labelPadding": 1}, "title": null}, "text": {"field": "e"}}},
  {"mark": {"type": "rule", "strokeWidth": 1.6, "strokeCap": "round"}, "encoding": {"y": {"datum": -20, "axis": {"values": [-20, 0, 20], "labelAngle": 270, "domain": false, "grid": true, "labelPadding": 1}, "title": null}, "y2": {"field": "t"}, "color": {"datum": "Leader Transition"}}},
  {"mark": {"type": "line", "strokeWidth": 1.3, "invalid": "break-paths-filter-domains"}, "encoding": {"color": {"datum": "If Not Leader",
    "scale": {"domain": ["If Leader Group", "If Not Leader", "Leader Transition"], "range": ["#1a476f", "#90353b", "#55752f"]},
    "legend": {"title": null, "orient": "none", "legendX": 115, "legendY": 523, "direction": "horizontal", "columns": 2, "strokeColor": "black", "fillColor": "white", "padding": 8, "labelFontSize": 24, "labelColor": "black", "labelLimit": 400, "labelOffset": 83, "symbolType": "M-1,0H7", "symbolSize": 564, "symbolStrokeWidth": 1.5, "columnPadding": 38, "rowPadding": 10,
      "encode": {"symbols": {"update": {"strokeDash": {"signal": "datum.value === 'If Leader Group' ? [22, 9] : [1, 0]"}, "strokeWidth": {"signal": "datum.value === 'If Leader Group' ? 4 : 1.5"}, "strokeCap": {"value": "round"}}}}}}}},
  {"transform": [{"filter": "datum.y === 1979"}], "mark": {"type": "rule", "color": "black", "strokeWidth": 1}, "encoding": {"x": {"datum": 1957.8, "axis": null, "title": null}, "y": {"datum": -26.5, "axis": {"values": [-20, 0, 20], "labelAngle": 270, "domain": false, "grid": true, "labelPadding": 1}, "title": null}, "y2": {"datum": 26.3}}}
 ]},
{"width": 201, "height": 95, "transform": [{"filter": {"field": "e", "equal": "Embu"}}],
 "encoding": {"x": {"field": "y", "type": "quantitative", "scale": {"domain": [1957.8, 2006.4], "nice": false, "zero": false}, "axis": null, "title": null},
  "y": {"field": "n", "type": "quantitative", "scale": {"domain": [-26.5, 41.9], "nice": false, "zero": false}, "axis": {"values": [-20, 0, 20], "labels": false, "ticks": false, "domain": false, "grid": true}, "title": null}},
 "layer": [
  {"transform": [{"filter": "datum.y === 1979"}], "mark": {"type": "rect", "fill": "#d9e5eb"}, "encoding": {"x": {"datum": 1957.8, "axis": null, "title": null}, "x2": {"datum": 2006.4}, "y": {"datum": 26.3, "axis": {"values": [-20, 0, 20], "labels": false, "ticks": false, "domain": false, "grid": true}, "title": null}, "y2": {"datum": 41.9}}},
  {"transform": [{"filter": "datum.y === 1979"}], "mark": {"type": "text", "fontSize": 15, "color": "black"}, "encoding": {"x": {"datum": 1982.1, "axis": null, "title": null}, "y": {"datum": 34.1, "axis": {"values": [-20, 0, 20], "labels": false, "ticks": false, "domain": false, "grid": true}, "title": null}, "text": {"field": "e"}}},
  {"mark": {"type": "rule", "strokeWidth": 1.6, "strokeCap": "round"}, "encoding": {"y": {"datum": -20, "axis": {"values": [-20, 0, 20], "labels": false, "ticks": false, "domain": false, "grid": true}, "title": null}, "y2": {"field": "t"}, "color": {"datum": "Leader Transition"}}},
  {"mark": {"type": "line", "strokeWidth": 1.3, "invalid": "break-paths-filter-domains"}, "encoding": {"color": {"datum": "If Not Leader"}}}
 ]},
{"width": 201, "height": 95, "transform": [{"filter": {"field": "e", "equal": "Kalenjin"}}],
 "encoding": {"x": {"field": "y", "type": "quantitative", "scale": {"domain": [1957.8, 2006.4], "nice": false, "zero": false}, "axis": null, "title": null},
  "y": {"field": "n", "type": "quantitative", "scale": {"domain": [-26.5, 41.9], "nice": false, "zero": false}, "axis": {"values": [-20, 0, 20], "labels": false, "ticks": false, "domain": false, "grid": true}, "title": null}},
 "layer": [
  {"transform": [{"filter": "datum.y === 1979"}], "mark": {"type": "rect", "fill": "#d9e5eb"}, "encoding": {"x": {"datum": 1957.8, "axis": null, "title": null}, "x2": {"datum": 2006.4}, "y": {"datum": 26.3, "axis": {"values": [-20, 0, 20], "labels": false, "ticks": false, "domain": false, "grid": true}, "title": null}, "y2": {"datum": 41.9}}},
  {"transform": [{"filter": "datum.y === 1979"}], "mark": {"type": "text", "fontSize": 15, "color": "black"}, "encoding": {"x": {"datum": 1982.1, "axis": null, "title": null}, "y": {"datum": 34.1, "axis": {"values": [-20, 0, 20], "labels": false, "ticks": false, "domain": false, "grid": true}, "title": null}, "text": {"field": "e"}}},
  {"mark": {"type": "rule", "strokeWidth": 1.6, "strokeCap": "round"}, "encoding": {"y": {"datum": -20, "axis": {"values": [-20, 0, 20], "labels": false, "ticks": false, "domain": false, "grid": true}, "title": null}, "y2": {"field": "t"}, "color": {"datum": "Leader Transition"}}},
  {"mark": {"type": "line", "strokeWidth": 1.3, "invalid": "break-paths-filter-domains"}, "encoding": {"color": {"datum": "If Not Leader"}}},
  {"mark": {"type": "line", "strokeWidth": 4, "strokeDash": [22, 9], "strokeCap": "round", "invalid": "break-paths-filter-domains"}, "encoding": {"y": {"field": "l", "type": "quantitative", "axis": {"values": [-20, 0, 20], "labels": false, "ticks": false, "domain": false, "grid": true}, "title": null}, "color": {"datum": "If Leader Group"}}}
 ]},
{"width": 201, "height": 95, "transform": [{"filter": {"field": "e", "equal": "Kamba"}}],
 "encoding": {"x": {"field": "y", "type": "quantitative", "scale": {"domain": [1957.8, 2006.4], "nice": false, "zero": false}, "axis": null, "title": null},
  "y": {"field": "n", "type": "quantitative", "scale": {"domain": [-26.5, 41.9], "nice": false, "zero": false}, "axis": {"values": [-20, 0, 20], "labels": false, "ticks": false, "domain": false, "grid": true}, "title": null}},
 "layer": [
  {"transform": [{"filter": "datum.y === 1979"}], "mark": {"type": "rect", "fill": "#d9e5eb"}, "encoding": {"x": {"datum": 1957.8, "axis": null, "title": null}, "x2": {"datum": 2006.4}, "y": {"datum": 26.3, "axis": {"values": [-20, 0, 20], "labels": false, "ticks": false, "domain": false, "grid": true}, "title": null}, "y2": {"datum": 41.9}}},
  {"transform": [{"filter": "datum.y === 1979"}], "mark": {"type": "text", "fontSize": 15, "color": "black"}, "encoding": {"x": {"datum": 1982.1, "axis": null, "title": null}, "y": {"datum": 34.1, "axis": {"values": [-20, 0, 20], "labels": false, "ticks": false, "domain": false, "grid": true}, "title": null}, "text": {"field": "e"}}},
  {"mark": {"type": "rule", "strokeWidth": 1.6, "strokeCap": "round"}, "encoding": {"y": {"datum": -20, "axis": {"values": [-20, 0, 20], "labels": false, "ticks": false, "domain": false, "grid": true}, "title": null}, "y2": {"field": "t"}, "color": {"datum": "Leader Transition"}}},
  {"mark": {"type": "line", "strokeWidth": 1.3, "invalid": "break-paths-filter-domains"}, "encoding": {"color": {"datum": "If Not Leader"}}},
  {"transform": [{"filter": "datum.y === 1979"}], "mark": {"type": "rule", "color": "black", "strokeWidth": 1}, "encoding": {"x": {"datum": 2006.4, "axis": null, "title": null}, "y": {"datum": -26.5, "axis": {"values": [-20, 0, 20], "labels": false, "ticks": false, "domain": false, "grid": true}, "title": null}, "y2": {"datum": 26.3}}}
 ]},
{"width": 201, "height": 95, "transform": [{"filter": {"field": "e", "equal": "Kikuyu"}}],
 "encoding": {"x": {"field": "y", "type": "quantitative", "scale": {"domain": [1957.8, 2006.4], "nice": false, "zero": false}, "axis": null, "title": null},
  "y": {"field": "n", "type": "quantitative", "scale": {"domain": [-26.5, 41.9], "nice": false, "zero": false}, "axis": {"values": [-20, 0, 20], "labelAngle": 270, "domain": false, "grid": true, "labelPadding": 1}, "title": null}},
 "layer": [
  {"transform": [{"filter": "datum.y === 1979"}], "mark": {"type": "rect", "fill": "#d9e5eb"}, "encoding": {"x": {"datum": 1957.8, "axis": null, "title": null}, "x2": {"datum": 2006.4}, "y": {"datum": 26.3, "axis": {"values": [-20, 0, 20], "labelAngle": 270, "domain": false, "grid": true, "labelPadding": 1}, "title": null}, "y2": {"datum": 41.9}}},
  {"transform": [{"filter": "datum.y === 1979"}], "mark": {"type": "text", "fontSize": 15, "color": "black"}, "encoding": {"x": {"datum": 1982.1, "axis": null, "title": null}, "y": {"datum": 34.1, "axis": {"values": [-20, 0, 20], "labelAngle": 270, "domain": false, "grid": true, "labelPadding": 1}, "title": null}, "text": {"field": "e"}}},
  {"mark": {"type": "rule", "strokeWidth": 1.6, "strokeCap": "round"}, "encoding": {"y": {"datum": -20, "axis": {"values": [-20, 0, 20], "labelAngle": 270, "domain": false, "grid": true, "labelPadding": 1}, "title": null}, "y2": {"field": "t"}, "color": {"datum": "Leader Transition"}}},
  {"mark": {"type": "line", "strokeWidth": 1.3, "invalid": "break-paths-filter-domains"}, "encoding": {"color": {"datum": "If Not Leader"}}},
  {"mark": {"type": "line", "strokeWidth": 4, "strokeDash": [22, 9], "strokeCap": "round", "invalid": "break-paths-filter-domains"}, "encoding": {"y": {"field": "l", "type": "quantitative", "axis": {"values": [-20, 0, 20], "labelAngle": 270, "domain": false, "grid": true, "labelPadding": 1}, "title": null}, "color": {"datum": "If Leader Group"}}},
  {"transform": [{"filter": "datum.y === 1979"}], "mark": {"type": "rule", "color": "black", "strokeWidth": 1}, "encoding": {"x": {"datum": 1957.8, "axis": null, "title": null}, "y": {"datum": -26.5, "axis": {"values": [-20, 0, 20], "labelAngle": 270, "domain": false, "grid": true, "labelPadding": 1}, "title": null}, "y2": {"datum": 26.3}}}
 ]},
{"width": 201, "height": 95, "transform": [{"filter": {"field": "e", "equal": "Kisii"}}],
 "encoding": {"x": {"field": "y", "type": "quantitative", "scale": {"domain": [1957.8, 2006.4], "nice": false, "zero": false}, "axis": null, "title": null},
  "y": {"field": "n", "type": "quantitative", "scale": {"domain": [-26.5, 41.9], "nice": false, "zero": false}, "axis": {"values": [-20, 0, 20], "labels": false, "ticks": false, "domain": false, "grid": true}, "title": null}},
 "layer": [
  {"transform": [{"filter": "datum.y === 1979"}], "mark": {"type": "rect", "fill": "#d9e5eb"}, "encoding": {"x": {"datum": 1957.8, "axis": null, "title": null}, "x2": {"datum": 2006.4}, "y": {"datum": 26.3, "axis": {"values": [-20, 0, 20], "labels": false, "ticks": false, "domain": false, "grid": true}, "title": null}, "y2": {"datum": 41.9}}},
  {"transform": [{"filter": "datum.y === 1979"}], "mark": {"type": "text", "fontSize": 15, "color": "black"}, "encoding": {"x": {"datum": 1982.1, "axis": null, "title": null}, "y": {"datum": 34.1, "axis": {"values": [-20, 0, 20], "labels": false, "ticks": false, "domain": false, "grid": true}, "title": null}, "text": {"field": "e"}}},
  {"mark": {"type": "rule", "strokeWidth": 1.6, "strokeCap": "round"}, "encoding": {"y": {"datum": -20, "axis": {"values": [-20, 0, 20], "labels": false, "ticks": false, "domain": false, "grid": true}, "title": null}, "y2": {"field": "t"}, "color": {"datum": "Leader Transition"}}},
  {"mark": {"type": "line", "strokeWidth": 1.3, "invalid": "break-paths-filter-domains"}, "encoding": {"color": {"datum": "If Not Leader"}}}
 ]},
{"width": 201, "height": 95, "transform": [{"filter": {"field": "e", "equal": "Luhya"}}],
 "encoding": {"x": {"field": "y", "type": "quantitative", "scale": {"domain": [1957.8, 2006.4], "nice": false, "zero": false}, "axis": null, "title": null},
  "y": {"field": "n", "type": "quantitative", "scale": {"domain": [-26.5, 41.9], "nice": false, "zero": false}, "axis": {"values": [-20, 0, 20], "labels": false, "ticks": false, "domain": false, "grid": true}, "title": null}},
 "layer": [
  {"transform": [{"filter": "datum.y === 1979"}], "mark": {"type": "rect", "fill": "#d9e5eb"}, "encoding": {"x": {"datum": 1957.8, "axis": null, "title": null}, "x2": {"datum": 2006.4}, "y": {"datum": 26.3, "axis": {"values": [-20, 0, 20], "labels": false, "ticks": false, "domain": false, "grid": true}, "title": null}, "y2": {"datum": 41.9}}},
  {"transform": [{"filter": "datum.y === 1979"}], "mark": {"type": "text", "fontSize": 15, "color": "black"}, "encoding": {"x": {"datum": 1982.1, "axis": null, "title": null}, "y": {"datum": 34.1, "axis": {"values": [-20, 0, 20], "labels": false, "ticks": false, "domain": false, "grid": true}, "title": null}, "text": {"field": "e"}}},
  {"mark": {"type": "rule", "strokeWidth": 1.6, "strokeCap": "round"}, "encoding": {"y": {"datum": -20, "axis": {"values": [-20, 0, 20], "labels": false, "ticks": false, "domain": false, "grid": true}, "title": null}, "y2": {"field": "t"}, "color": {"datum": "Leader Transition"}}},
  {"mark": {"type": "line", "strokeWidth": 1.3, "invalid": "break-paths-filter-domains"}, "encoding": {"color": {"datum": "If Not Leader"}}}
 ]},
{"width": 201, "height": 95, "transform": [{"filter": {"field": "e", "equal": "Luo"}}],
 "encoding": {"x": {"field": "y", "type": "quantitative", "scale": {"domain": [1957.8, 2006.4], "nice": false, "zero": false}, "axis": null, "title": null},
  "y": {"field": "n", "type": "quantitative", "scale": {"domain": [-26.5, 41.9], "nice": false, "zero": false}, "axis": {"values": [-20, 0, 20], "labels": false, "ticks": false, "domain": false, "grid": true}, "title": null}},
 "layer": [
  {"transform": [{"filter": "datum.y === 1979"}], "mark": {"type": "rect", "fill": "#d9e5eb"}, "encoding": {"x": {"datum": 1957.8, "axis": null, "title": null}, "x2": {"datum": 2006.4}, "y": {"datum": 26.3, "axis": {"values": [-20, 0, 20], "labels": false, "ticks": false, "domain": false, "grid": true}, "title": null}, "y2": {"datum": 41.9}}},
  {"transform": [{"filter": "datum.y === 1979"}], "mark": {"type": "text", "fontSize": 15, "color": "black"}, "encoding": {"x": {"datum": 1982.1, "axis": null, "title": null}, "y": {"datum": 34.1, "axis": {"values": [-20, 0, 20], "labels": false, "ticks": false, "domain": false, "grid": true}, "title": null}, "text": {"field": "e"}}},
  {"mark": {"type": "rule", "strokeWidth": 1.6, "strokeCap": "round"}, "encoding": {"y": {"datum": -20, "axis": {"values": [-20, 0, 20], "labels": false, "ticks": false, "domain": false, "grid": true}, "title": null}, "y2": {"field": "t"}, "color": {"datum": "Leader Transition"}}},
  {"mark": {"type": "line", "strokeWidth": 1.3, "invalid": "break-paths-filter-domains"}, "encoding": {"color": {"datum": "If Not Leader"}}},
  {"transform": [{"filter": "datum.y === 1979"}], "mark": {"type": "rule", "color": "black", "strokeWidth": 1}, "encoding": {"x": {"datum": 2006.4, "axis": null, "title": null}, "y": {"datum": -26.5, "axis": {"values": [-20, 0, 20], "labels": false, "ticks": false, "domain": false, "grid": true}, "title": null}, "y2": {"datum": 26.3}}}
 ]},
{"width": 201, "height": 95, "transform": [{"filter": {"field": "e", "equal": "Masai"}}],
 "encoding": {"x": {"field": "y", "type": "quantitative", "scale": {"domain": [1957.8, 2006.4], "nice": false, "zero": false}, "axis": null, "title": null},
  "y": {"field": "n", "type": "quantitative", "scale": {"domain": [-26.5, 41.9], "nice": false, "zero": false}, "axis": {"values": [-20, 0, 20], "labelAngle": 270, "domain": false, "grid": true, "labelPadding": 1}, "title": null}},
 "layer": [
  {"transform": [{"filter": "datum.y === 1979"}], "mark": {"type": "rect", "fill": "#d9e5eb"}, "encoding": {"x": {"datum": 1957.8, "axis": null, "title": null}, "x2": {"datum": 2006.4}, "y": {"datum": 26.3, "axis": {"values": [-20, 0, 20], "labelAngle": 270, "domain": false, "grid": true, "labelPadding": 1}, "title": null}, "y2": {"datum": 41.9}}},
  {"transform": [{"filter": "datum.y === 1979"}], "mark": {"type": "text", "fontSize": 15, "color": "black"}, "encoding": {"x": {"datum": 1982.1, "axis": null, "title": null}, "y": {"datum": 34.1, "axis": {"values": [-20, 0, 20], "labelAngle": 270, "domain": false, "grid": true, "labelPadding": 1}, "title": null}, "text": {"field": "e"}}},
  {"mark": {"type": "rule", "strokeWidth": 1.6, "strokeCap": "round"}, "encoding": {"y": {"datum": -20, "axis": {"values": [-20, 0, 20], "labelAngle": 270, "domain": false, "grid": true, "labelPadding": 1}, "title": null}, "y2": {"field": "t"}, "color": {"datum": "Leader Transition"}}},
  {"mark": {"type": "line", "strokeWidth": 1.3, "invalid": "break-paths-filter-domains"}, "encoding": {"color": {"datum": "If Not Leader"}}},
  {"transform": [{"filter": "datum.y === 1979"}], "mark": {"type": "rule", "color": "black", "strokeWidth": 1}, "encoding": {"x": {"datum": 1957.8, "axis": null, "title": null}, "y": {"datum": -26.5, "axis": {"values": [-20, 0, 20], "labelAngle": 270, "domain": false, "grid": true, "labelPadding": 1}, "title": null}, "y2": {"datum": 26.3}}}
 ]},
{"width": 201, "height": 95, "transform": [{"filter": {"field": "e", "equal": "Meru"}}],
 "encoding": {"x": {"field": "y", "type": "quantitative", "scale": {"domain": [1957.8, 2006.4], "nice": false, "zero": false}, "axis": null, "title": null},
  "y": {"field": "n", "type": "quantitative", "scale": {"domain": [-26.5, 41.9], "nice": false, "zero": false}, "axis": {"values": [-20, 0, 20], "labels": false, "ticks": false, "domain": false, "grid": true}, "title": null}},
 "layer": [
  {"transform": [{"filter": "datum.y === 1979"}], "mark": {"type": "rect", "fill": "#d9e5eb"}, "encoding": {"x": {"datum": 1957.8, "axis": null, "title": null}, "x2": {"datum": 2006.4}, "y": {"datum": 26.3, "axis": {"values": [-20, 0, 20], "labels": false, "ticks": false, "domain": false, "grid": true}, "title": null}, "y2": {"datum": 41.9}}},
  {"transform": [{"filter": "datum.y === 1979"}], "mark": {"type": "text", "fontSize": 15, "color": "black"}, "encoding": {"x": {"datum": 1982.1, "axis": null, "title": null}, "y": {"datum": 34.1, "axis": {"values": [-20, 0, 20], "labels": false, "ticks": false, "domain": false, "grid": true}, "title": null}, "text": {"field": "e"}}},
  {"mark": {"type": "rule", "strokeWidth": 1.6, "strokeCap": "round"}, "encoding": {"y": {"datum": -20, "axis": {"values": [-20, 0, 20], "labels": false, "ticks": false, "domain": false, "grid": true}, "title": null}, "y2": {"field": "t"}, "color": {"datum": "Leader Transition"}}},
  {"mark": {"type": "line", "strokeWidth": 1.3, "invalid": "break-paths-filter-domains"}, "encoding": {"color": {"datum": "If Not Leader"}}}
 ]},
{"width": 201, "height": 95, "transform": [{"filter": {"field": "e", "equal": "Mijikenda"}}],
 "encoding": {"x": {"field": "y", "type": "quantitative", "scale": {"domain": [1957.8, 2006.4], "nice": false, "zero": false}, "axis": null, "title": null},
  "y": {"field": "n", "type": "quantitative", "scale": {"domain": [-26.5, 41.9], "nice": false, "zero": false}, "axis": {"values": [-20, 0, 20], "labels": false, "ticks": false, "domain": false, "grid": true}, "title": null}},
 "layer": [
  {"transform": [{"filter": "datum.y === 1979"}], "mark": {"type": "rect", "fill": "#d9e5eb"}, "encoding": {"x": {"datum": 1957.8, "axis": null, "title": null}, "x2": {"datum": 2006.4}, "y": {"datum": 26.3, "axis": {"values": [-20, 0, 20], "labels": false, "ticks": false, "domain": false, "grid": true}, "title": null}, "y2": {"datum": 41.9}}},
  {"transform": [{"filter": "datum.y === 1979"}], "mark": {"type": "text", "fontSize": 15, "color": "black"}, "encoding": {"x": {"datum": 1982.1, "axis": null, "title": null}, "y": {"datum": 34.1, "axis": {"values": [-20, 0, 20], "labels": false, "ticks": false, "domain": false, "grid": true}, "title": null}, "text": {"field": "e"}}},
  {"mark": {"type": "rule", "strokeWidth": 1.6, "strokeCap": "round"}, "encoding": {"y": {"datum": -20, "axis": {"values": [-20, 0, 20], "labels": false, "ticks": false, "domain": false, "grid": true}, "title": null}, "y2": {"field": "t"}, "color": {"datum": "Leader Transition"}}},
  {"mark": {"type": "line", "strokeWidth": 1.3, "invalid": "break-paths-filter-domains"}, "encoding": {"color": {"datum": "If Not Leader"}}}
 ]},
{"width": 201, "height": 95, "transform": [{"filter": {"field": "e", "equal": "Rendille"}}],
 "encoding": {"x": {"field": "y", "type": "quantitative", "scale": {"domain": [1957.8, 2006.4], "nice": false, "zero": false}, "axis": {"values": [1960, 1980, 2000], "format": "d", "grid": false, "labelPadding": 5}, "title": null},
  "y": {"field": "n", "type": "quantitative", "scale": {"domain": [-26.5, 41.9], "nice": false, "zero": false}, "axis": {"values": [-20, 0, 20], "labels": false, "ticks": false, "domain": false, "grid": true}, "title": null}},
 "layer": [
  {"transform": [{"filter": "datum.y === 1979"}], "mark": {"type": "rect", "fill": "#d9e5eb"}, "encoding": {"x": {"datum": 1957.8, "axis": {"values": [1960, 1980, 2000], "format": "d", "grid": false, "labelPadding": 5}, "title": null}, "x2": {"datum": 2006.4}, "y": {"datum": 26.3, "axis": {"values": [-20, 0, 20], "labels": false, "ticks": false, "domain": false, "grid": true}, "title": null}, "y2": {"datum": 41.9}}},
  {"transform": [{"filter": "datum.y === 1979"}], "mark": {"type": "text", "fontSize": 15, "color": "black"}, "encoding": {"x": {"datum": 1982.1, "axis": {"values": [1960, 1980, 2000], "format": "d", "grid": false, "labelPadding": 5}, "title": null}, "y": {"datum": 34.1, "axis": {"values": [-20, 0, 20], "labels": false, "ticks": false, "domain": false, "grid": true}, "title": null}, "text": {"field": "e"}}},
  {"mark": {"type": "rule", "strokeWidth": 1.6, "strokeCap": "round"}, "encoding": {"y": {"datum": -20, "axis": {"values": [-20, 0, 20], "labels": false, "ticks": false, "domain": false, "grid": true}, "title": null}, "y2": {"field": "t"}, "color": {"datum": "Leader Transition"}}},
  {"mark": {"type": "line", "strokeWidth": 1.3, "invalid": "break-paths-filter-domains"}, "encoding": {"color": {"datum": "If Not Leader"}}},
  {"transform": [{"filter": "datum.y === 1979"}], "mark": {"type": "rule", "color": "black", "strokeWidth": 1}, "encoding": {"x": {"datum": 2006.4, "axis": {"values": [1960, 1980, 2000], "format": "d", "grid": false, "labelPadding": 5}, "title": null}, "y": {"datum": -26.5, "axis": {"values": [-20, 0, 20], "labels": false, "ticks": false, "domain": false, "grid": true}, "title": null}, "y2": {"datum": 26.3}}}
 ]},
{"width": 201, "height": 95, "transform": [{"filter": {"field": "e", "equal": "Somali"}}],
 "encoding": {"x": {"field": "y", "type": "quantitative", "scale": {"domain": [1957.8, 2006.4], "nice": false, "zero": false}, "axis": {"values": [1960, 1980, 2000], "format": "d", "grid": false, "labelPadding": 5}, "title": null},
  "y": {"field": "n", "type": "quantitative", "scale": {"domain": [-26.5, 41.9], "nice": false, "zero": false}, "axis": {"values": [-20, 0, 20], "labelAngle": 270, "domain": false, "grid": true, "labelPadding": 1}, "title": null}},
 "layer": [
  {"transform": [{"filter": "datum.y === 1979"}], "mark": {"type": "rect", "fill": "#d9e5eb"}, "encoding": {"x": {"datum": 1957.8, "axis": {"values": [1960, 1980, 2000], "format": "d", "grid": false, "labelPadding": 5}, "title": null}, "x2": {"datum": 2006.4}, "y": {"datum": 26.3, "axis": {"values": [-20, 0, 20], "labelAngle": 270, "domain": false, "grid": true, "labelPadding": 1}, "title": null}, "y2": {"datum": 41.9}}},
  {"transform": [{"filter": "datum.y === 1979"}], "mark": {"type": "text", "fontSize": 15, "color": "black"}, "encoding": {"x": {"datum": 1982.1, "axis": {"values": [1960, 1980, 2000], "format": "d", "grid": false, "labelPadding": 5}, "title": null}, "y": {"datum": 34.1, "axis": {"values": [-20, 0, 20], "labelAngle": 270, "domain": false, "grid": true, "labelPadding": 1}, "title": null}, "text": {"field": "e"}}},
  {"mark": {"type": "rule", "strokeWidth": 1.6, "strokeCap": "round"}, "encoding": {"y": {"datum": -20, "axis": {"values": [-20, 0, 20], "labelAngle": 270, "domain": false, "grid": true, "labelPadding": 1}, "title": null}, "y2": {"field": "t"}, "color": {"datum": "Leader Transition"}}},
  {"mark": {"type": "line", "strokeWidth": 1.3, "invalid": "break-paths-filter-domains"}, "encoding": {"color": {"datum": "If Not Leader"}}},
  {"transform": [{"filter": "datum.y === 1979"}], "mark": {"type": "rule", "color": "black", "strokeWidth": 1}, "encoding": {"x": {"datum": 1957.8, "axis": {"values": [1960, 1980, 2000], "format": "d", "grid": false, "labelPadding": 5}, "title": null}, "y": {"datum": -26.5, "axis": {"values": [-20, 0, 20], "labelAngle": 270, "domain": false, "grid": true, "labelPadding": 1}, "title": null}, "y2": {"datum": 26.3}}}
 ]},
{"width": 201, "height": 95, "transform": [{"filter": {"field": "e", "equal": "Taita"}}],
 "encoding": {"x": {"field": "y", "type": "quantitative", "scale": {"domain": [1957.8, 2006.4], "nice": false, "zero": false}, "axis": {"values": [1960, 1980, 2000], "format": "d", "grid": false, "labelPadding": 5}, "title": null},
  "y": {"field": "n", "type": "quantitative", "scale": {"domain": [-26.5, 41.9], "nice": false, "zero": false}, "axis": {"values": [-20, 0, 20], "labels": false, "ticks": false, "domain": false, "grid": true}, "title": null}},
 "layer": [
  {"transform": [{"filter": "datum.y === 1979"}], "mark": {"type": "rect", "fill": "#d9e5eb"}, "encoding": {"x": {"datum": 1957.8, "axis": {"values": [1960, 1980, 2000], "format": "d", "grid": false, "labelPadding": 5}, "title": null}, "x2": {"datum": 2006.4}, "y": {"datum": 26.3, "axis": {"values": [-20, 0, 20], "labels": false, "ticks": false, "domain": false, "grid": true}, "title": null}, "y2": {"datum": 41.9}}},
  {"transform": [{"filter": "datum.y === 1979"}], "mark": {"type": "text", "fontSize": 15, "color": "black"}, "encoding": {"x": {"datum": 1982.1, "axis": {"values": [1960, 1980, 2000], "format": "d", "grid": false, "labelPadding": 5}, "title": null}, "y": {"datum": 34.1, "axis": {"values": [-20, 0, 20], "labels": false, "ticks": false, "domain": false, "grid": true}, "title": null}, "text": {"field": "e"}}},
  {"mark": {"type": "rule", "strokeWidth": 1.6, "strokeCap": "round"}, "encoding": {"y": {"datum": -20, "axis": {"values": [-20, 0, 20], "labels": false, "ticks": false, "domain": false, "grid": true}, "title": null}, "y2": {"field": "t"}, "color": {"datum": "Leader Transition"}}},
  {"mark": {"type": "line", "strokeWidth": 1.3, "invalid": "break-paths-filter-domains"}, "encoding": {"color": {"datum": "If Not Leader"}}}
 ]},
{"width": 201, "height": 95, "transform": [{"filter": {"field": "e", "equal": "Turkana"}}],
 "encoding": {"x": {"field": "y", "type": "quantitative", "scale": {"domain": [1957.8, 2006.4], "nice": false, "zero": false}, "axis": {"values": [1960, 1980, 2000], "format": "d", "grid": false, "labelPadding": 5}, "title": null},
  "y": {"field": "n", "type": "quantitative", "scale": {"domain": [-26.5, 41.9], "nice": false, "zero": false}, "axis": {"values": [-20, 0, 20], "labels": false, "ticks": false, "domain": false, "grid": true}, "title": null}},
 "layer": [
  {"transform": [{"filter": "datum.y === 1979"}], "mark": {"type": "rect", "fill": "#d9e5eb"}, "encoding": {"x": {"datum": 1957.8, "axis": {"values": [1960, 1980, 2000], "format": "d", "grid": false, "labelPadding": 5}, "title": null}, "x2": {"datum": 2006.4}, "y": {"datum": 26.3, "axis": {"values": [-20, 0, 20], "labels": false, "ticks": false, "domain": false, "grid": true}, "title": null}, "y2": {"datum": 41.9}}},
  {"transform": [{"filter": "datum.y === 1979"}], "mark": {"type": "text", "fontSize": 15, "color": "black"}, "encoding": {"x": {"datum": 1982.1, "axis": {"values": [1960, 1980, 2000], "format": "d", "grid": false, "labelPadding": 5}, "title": null}, "y": {"datum": 34.1, "axis": {"values": [-20, 0, 20], "labels": false, "ticks": false, "domain": false, "grid": true}, "title": null}, "text": {"field": "e"}}},
  {"mark": {"type": "rule", "strokeWidth": 1.6, "strokeCap": "round"}, "encoding": {"y": {"datum": -20, "axis": {"values": [-20, 0, 20], "labels": false, "ticks": false, "domain": false, "grid": true}, "title": null}, "y2": {"field": "t"}, "color": {"datum": "Leader Transition"}}},
  {"mark": {"type": "line", "strokeWidth": 1.3, "invalid": "break-paths-filter-domains"}, "encoding": {"color": {"datum": "If Not Leader"}}}
 ]}
]
}],
"config": {
 "font": "Liberation Sans",
 "view": {"stroke": null, "fill": "white"},
 "axis": {"labelFontSize": 13.5, "labelColor": "black", "tickColor": "black", "domainColor": "black", "tickSize": 5, "gridColor": "#e0e9ed", "gridWidth": 1, "domainWidth": 1, "tickWidth": 1},
 "legend": {"labelFont": "Liberation Sans"},
 "title": {"font": "Liberation Sans"}
}
}
